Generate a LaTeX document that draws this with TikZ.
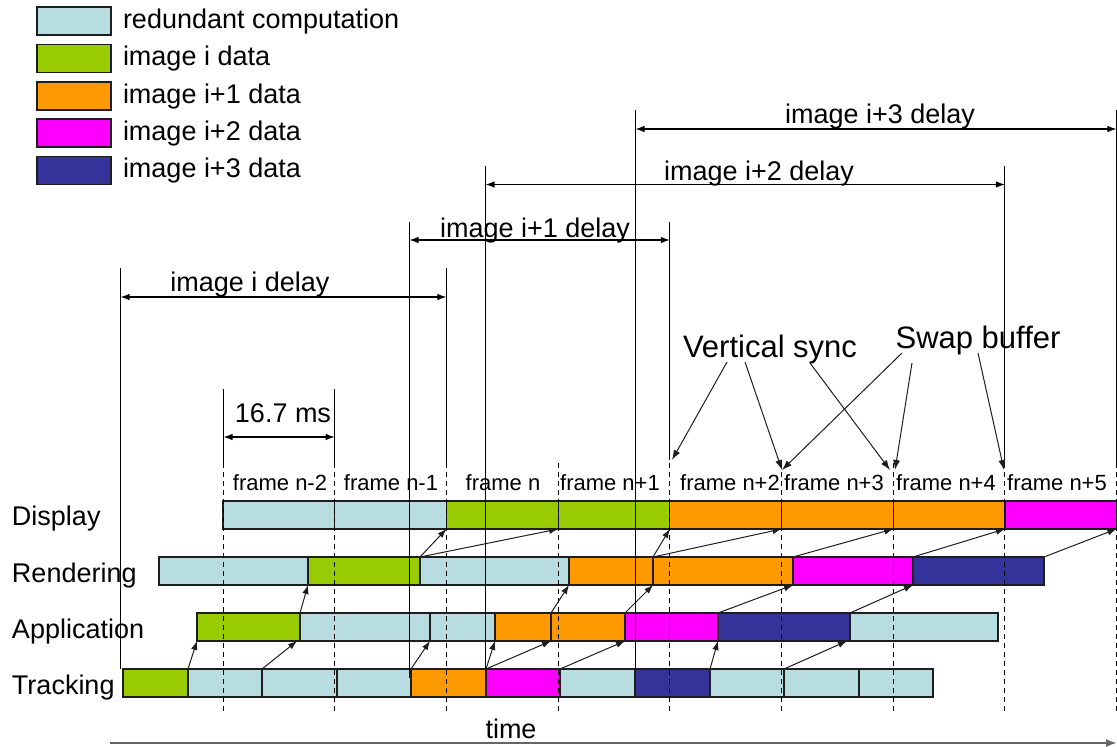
\documentclass[tikz,border=0pt]{standalone}
\usepackage{fontspec}
\setmainfont{Liberation Sans}
\usetikzlibrary{arrows.meta}
\definecolor{cblue}{RGB}{184,221,224}
\definecolor{cgreen}{RGB}{153,204,0}
\definecolor{corange}{RGB}{255,153,0}
\definecolor{cmagenta}{RGB}{255,0,255}
\definecolor{cnavy}{RGB}{51,51,153}
\definecolor{cline}{RGB}{30,30,30}
\definecolor{ctime}{RGB}{100,100,100}
\newcommand\mkseg[5]{\node[bar,fill=#5,minimum width={#3-#2}] (#1) at (#2,#4) {};}
\begin{document}
\begin{tikzpicture}[x=1pt,y=-1pt,
 bar/.style={draw=cline,line width=1.2pt,inner sep=0pt,outer sep=0pt,minimum height=28pt,anchor=north west},
 legbox/.style={bar,minimum width=74pt},
 txt/.style={font=\fontsize{27}{32}\selectfont,inner sep=0pt,outer sep=0pt},
 frm/.style={font=\fontsize{22}{26}\selectfont,inner sep=0pt,anchor=base},
 big/.style={font=\fontsize{31}{36}\selectfont,inner sep=0pt,anchor=base},
 flow/.style={-{Latex[length=9pt,width=6.5pt]},line width=1pt,draw=cline},
 dimln/.style={{Latex[length=9pt,width=6.5pt]}-{Latex[length=9pt,width=6.5pt]},line width=1.1pt},
 vline/.style={line width=1pt},
 gridln/.style={line width=1pt,dash pattern=on 5pt off 4pt},
]
\useasboundingbox (0,0) rectangle (1117,747);

% legend
\node[legbox,fill=cblue] (k1) at (37,7) {};
\node[legbox,fill=cgreen] (k2) at (37,44.5) {};
\node[legbox,fill=corange] (k3) at (37,82) {};
\node[legbox,fill=cmagenta] (k4) at (37,119) {};
\node[legbox,fill=cnavy] (k5) at (37,156.5) {};
\node[txt,anchor=base west] (k1t) at (123,28.5) {redundant computation};
\node[txt,anchor=base west] (k2t) at (123,65.5) {image i data};
\node[txt,anchor=base west] (k3t) at (123,103) {image i+1 data};
\node[txt,anchor=base west] (k4t) at (123,140) {image i+2 data};
\node[txt,anchor=base west] (k5t) at (123,177.5) {image i+3 data};

% row labels
\node[txt,anchor=base west] (lD) at (12,525) {Display};
\node[txt,anchor=base west] (lR) at (12,582) {Rendering};
\node[txt,anchor=base west] (lA) at (12,638) {Application};
\node[txt,anchor=base west] (lT) at (12,694) {Tracking};

% display
\mkseg{d1}{223}{334.7}{501}{cblue}
\mkseg{d2}{334.7}{446.4}{501}{cblue}
\mkseg{d3}{446.4}{558.1}{501}{cgreen}
\mkseg{d4}{558.1}{669.8}{501}{cgreen}
\mkseg{d5}{669.8}{781.5}{501}{corange}
\mkseg{d6}{781.5}{893.2}{501}{corange}
\mkseg{d7}{893.2}{1004.9}{501}{corange}
\mkseg{d8}{1004.9}{1116.4}{501}{cmagenta}
% rendering
\mkseg{r1}{159}{308}{557}{cblue}
\mkseg{r2}{308}{420}{557}{cgreen}
\mkseg{r3}{420}{569}{557}{cblue}
\mkseg{r4}{569}{653}{557}{corange}
\mkseg{r5}{653}{793}{557}{corange}
\mkseg{r6}{793}{913}{557}{cmagenta}
\mkseg{r7}{913}{1044}{557}{cnavy}
% application
\mkseg{a1}{197}{300}{613}{cgreen}
\mkseg{a2}{300}{430}{613}{cblue}
\mkseg{a3}{430}{495}{613}{cblue}
\mkseg{a4}{495}{551}{613}{corange}
\mkseg{a5}{551}{625}{613}{corange}
\mkseg{a6}{625}{718}{613}{cmagenta}
\mkseg{a7}{718}{850}{613}{cnavy}
\mkseg{a8}{850}{998}{613}{cblue}
% tracking
\mkseg{t1}{123}{188}{669}{cgreen}
\mkseg{t2}{188}{262}{669}{cblue}
\mkseg{t3}{262}{337}{669}{cblue}
\mkseg{t4}{337}{411}{669}{cblue}
\mkseg{t5}{411}{486}{669}{corange}
\mkseg{t6}{486}{560}{669}{cmagenta}
\mkseg{t7}{560}{635}{669}{cblue}
\mkseg{t8}{635}{710}{669}{cnavy}
\mkseg{t9}{710}{784}{669}{cblue}
\mkseg{t10}{784}{859}{669}{cblue}
\mkseg{t11}{859}{933}{669}{cblue}

% frame grid
\foreach \x in {223.5,334.7,446.4,558.1,669.8,781.5,893.2,1004.9,1116.4}
  \draw[gridln] (\x,463) -- (\x,713);

% frame labels
\node[frm] (f1) at (280,490) {frame n-2};
\node[frm] (f2) at (391,490) {frame n-1};
\node[frm] (f3) at (503,490) {frame n};
\node[frm] (f4) at (610,490) {frame n+1};
\node[frm] (f5) at (730,490) {frame n+2};
\node[frm] (f6) at (834,490) {frame n+3};
\node[frm] (f7) at (946,490) {frame n+4};
\node[frm] (f8) at (1057,490) {frame n+5};

% flow arrows tracking -> application
\draw[flow] (t1.north east) -- (a1.south west);
\draw[flow] (t2.north east) -- ([xshift=-3pt]a2.south west);
\draw[flow] (t4.north east) -- (a3.south west);
\draw[flow] (t5.north east) -- (a4.south west);
\draw[flow] (t5.north east) -- (a5.south west);
\draw[flow] (t6.north east) -- (a6.south west);
\draw[flow] (t8.north east) -- (a7.south west);
\draw[flow] (t9.north east) -- ([xshift=-3pt]a8.south west);
% application -> rendering
\draw[flow] (a1.north east) -- (r2.south west);
\draw[flow] (a4.north east) -- (r4.south west);
\draw[flow] (a5.north east) -- (r5.south west);
\draw[flow] (a6.north east) -- (r6.south west);
\draw[flow] (a7.north east) -- (r7.south west);
% rendering -> display
\draw[flow] (r2.north east) -- (d3.south west);
\draw[flow] (r2.north east) -- (d4.south west);
\draw[flow] (r4.north east) -- (d5.south west);
\draw[flow] (r4.north east) -- (d6.south west);
\draw[flow] (r5.north east) -- (d7.south west);
\draw[flow] (r6.north east) -- (d8.south west);
\draw[flow] (r7.north east) -- (d8.south east);

% delay markers
\coordinate (v0t) at (120.5,268); \coordinate (v0b) at (120.5,669);
\coordinate (v1t) at (446.4,268); \coordinate (v1b) at (446.4,463);
\coordinate (v2t) at (409.5,222); \coordinate (v2b) at (409.5,678);
\coordinate (v3t) at (669.8,222); \coordinate (v3b) at (669.8,460);
\coordinate (v4t) at (485.5,166); \coordinate (v4b) at (485.5,678);
\coordinate (v5t) at (1004.9,166);\coordinate (v5b) at (1004.9,465);
\coordinate (v6t) at (635.5,110); \coordinate (v6b) at (635.5,669);
\coordinate (v7t) at (1116.4,110);\coordinate (v7b) at (1116.4,463);
\coordinate (v8t) at (223.5,389); \coordinate (v8b) at (223.5,463);
\coordinate (v9t) at (334.7,389); \coordinate (v9b) at (334.7,463);
\foreach \i in {0,...,9} \draw[vline] (v\i t) -- (v\i b);

\coordinate (e0l) at (120.5,297);  \coordinate (e0r) at (446.4,297);
\coordinate (e1l) at (409.5,240);  \coordinate (e1r) at (669.8,240);
\coordinate (e2l) at (485.5,184.5);\coordinate (e2r) at (1004.9,184.5);
\coordinate (e3l) at (635.5,129);  \coordinate (e3r) at (1116.4,129);
\coordinate (e4l) at (223.5,437);  \coordinate (e4r) at (334.7,437);
\foreach \i in {0,...,4} \draw[dimln] (e\i l) -- (e\i r);

\node[txt,anchor=base] (n0) at (250,291) {image i delay};
\node[txt,anchor=base] (n1) at (535,237) {image i+1 delay};
\node[txt,anchor=base] (n2) at (759,180) {image i+2 delay};
\node[txt,anchor=base] (n3) at (880,123) {image i+3 delay};
\node[txt,anchor=base] (n4) at (283,422) {16.7 ms};

% callouts
\node[big] (vs) at (770,357) {Vertical sync};
\node[big] (sb) at (978,348) {Swap buffer};
\coordinate (vs1) at (727,362); \coordinate (vs1e) at (672,460);
\coordinate (vs2) at (745,362); \coordinate (vs2e) at (782,470);
\coordinate (vs3) at (810,363); \coordinate (vs3e) at (890,470);
\coordinate (sb1) at (902,353); \coordinate (sb1e) at (782,470);
\coordinate (sb2) at (912,363); \coordinate (sb2e) at (895,470);
\coordinate (sb3) at (978,353); \coordinate (sb3e) at (1004,470);
\foreach \c in {vs1,vs2,vs3,sb1,sb2,sb3}
  \draw[flow,-{Latex[length=10pt,width=7pt]}] (\c) -- (\c e);

% time axis
\node[txt,anchor=base] (tm) at (511,738) {time};
\coordinate (ta) at (110,743); \coordinate (tb) at (1117,743);
\draw[ctime,line width=2pt,-{Latex[length=11pt,width=8pt]}] (ta) -- (tb);
\end{tikzpicture}
\end{document}
